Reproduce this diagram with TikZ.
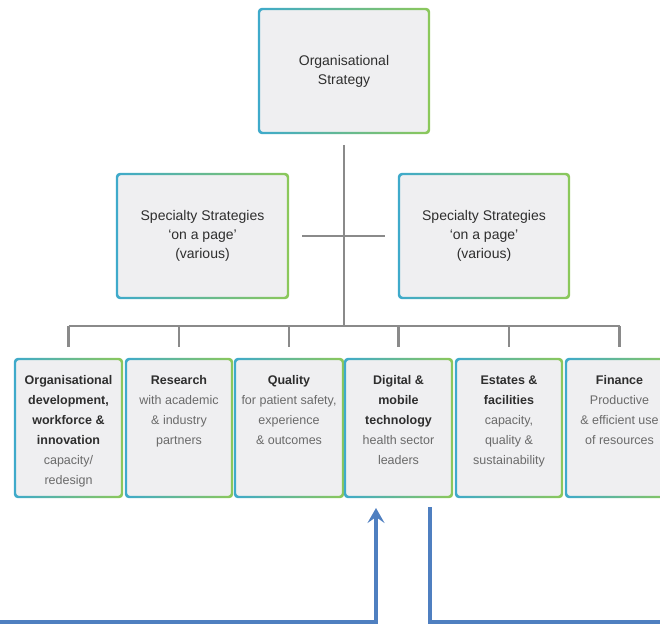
\documentclass[tikz,border=0pt]{standalone}
\usepackage{fontspec}
\setmainfont{Liberation Sans}
\usetikzlibrary{arrows.meta,calc}
\definecolor{boxfill}{HTML}{EFEFF1}
\definecolor{bordL}{HTML}{3EAACB}
\definecolor{bordR}{HTML}{8CC85A}
\definecolor{conncol}{HTML}{8A8A8A}
\definecolor{bluecol}{HTML}{4F7FC0}
\definecolor{txtdark}{HTML}{2E2E2E}
\definecolor{txtlight}{HTML}{6A6A6A}
\tikzset{
  boxnode/.style={fill=boxfill, rounded corners=3pt, inner sep=0pt, outer sep=0pt},
  conn/.style={draw=conncol, line width=2.2pt},
  blueline/.style={draw=bluecol, line width=3.6pt, line join=miter},
}
\newcommand{\toptext}[3]{\parbox[c][#2][c]{#1}{\centering\fontsize{14}{19}\selectfont\color{txtdark}#3}}
\newcommand{\bottext}[3]{\parbox[c][#2][t]{#1}{\centering\fontsize{12.5}{20}\selectfont\color{txtlight}\rule{0pt}{25pt}#3}}
\newcommand{\hd}[1]{{\bfseries\color{txtdark}#1}}
\begin{document}
\begin{tikzpicture}[x=1pt,y=-1pt]
\useasboundingbox (0,0) rectangle (660,631);
% top
\node[boxnode] (top) at (344,71) {\toptext{170pt}{124pt}{Organisational\\Strategy}};
\node[boxnode] (s1) at (202.5,236) {\toptext{171pt}{124pt}{Specialty Strategies\\`on a page'\\(various)}};
\node[boxnode] (s2) at (484,236) {\toptext{170pt}{124pt}{Specialty Strategies\\`on a page'\\(various)}};
% bottom row
\node[boxnode] (b1) at (68.5,428) {\bottext{107pt}{138pt}{\hd{Organisational}\\\hd{development,}\\\hd{workforce \&}\\\hd{innovation}\\capacity/\\redesign}};
\node[boxnode] (b2) at (179,428) {\bottext{106pt}{138pt}{\hd{Research}\\with academic\\\& industry\\partners}};
\node[boxnode] (b3) at (289,428) {\bottext{108pt}{138pt}{\hd{Quality}\\for patient safety,\\experience\\\& outcomes}};
\node[boxnode] (b4) at (398.5,428) {\bottext{107pt}{138pt}{\hd{Digital \&}\\\hd{mobile}\\\hd{technology}\\health sector\\leaders}};
\node[boxnode] (b5) at (509,428) {\bottext{106pt}{138pt}{\hd{Estates \&}\\\hd{facilities}\\capacity,\\quality \&\\sustainability}};
\node[boxnode] (b6) at (619.5,428) {\bottext{107pt}{138pt}{\hd{Finance}\\Productive\\\& efficient use\\of resources}};
% gradient borders
\foreach \n in {top,s1,s2,b1,b2,b3,b4,b5,b6}{
  \shade[left color=bordL, right color=bordR, even odd rule]
    [rounded corners=4pt] ($(\n.south west)+(-1.2pt,-1.2pt)$) rectangle ($(\n.north east)+(1.2pt,1.2pt)$)
    [rounded corners=2.5pt] ($(\n.south west)+(1.2pt,1.2pt)$) rectangle ($(\n.north east)+(-1.2pt,-1.2pt)$);
}
% connectors
\coordinate (bus) at (0,326);
\draw[conn] ([yshift=-12pt]top.south) -- (top.south |- bus);
\draw[conn] ([xshift=14pt]s1.east) -- ([xshift=-14pt]s2.west);
\draw[conn] (b1 |- bus) -- (b6 |- bus);
\foreach \n in {b1,b2,b3,b4,b5,b6}{
  \draw[conn] (\n |- bus) -- ([yshift=12pt]\n.north);
}
% blue lines
\coordinate (leftend) at (-5,622);
\coordinate (rightend) at (665,622);
\draw[blueline, -{Stealth[length=15pt,width=17pt,inset=6pt]}] (leftend) -| ([xshift=-22.5pt,yshift=-11pt]b4.south);
\draw[blueline] ([xshift=31.5pt,yshift=-10pt]b4.south) |- (rightend);
\end{tikzpicture}
\end{document}
